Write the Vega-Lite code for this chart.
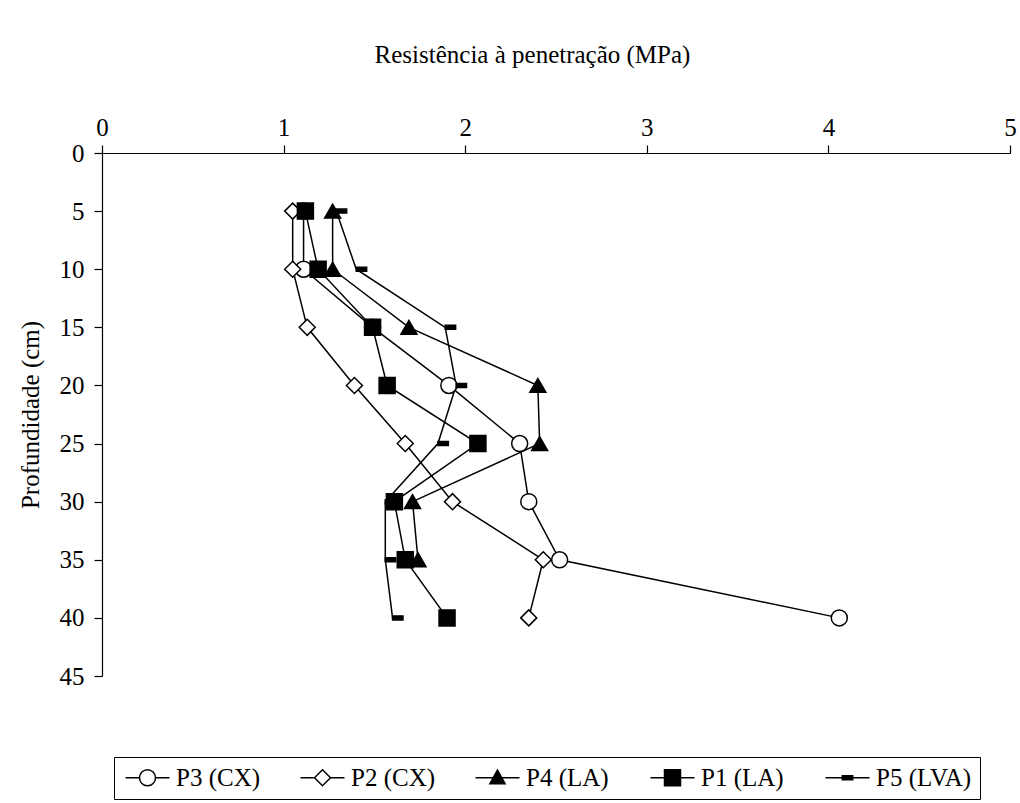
{
  "$schema": "https://vega.github.io/schema/vega-lite/v6.json",
  "width": 908,
  "height": 523,
  "autosize": {"type": "none"},
  "padding": {"left": 102, "top": 153, "right": 10, "bottom": 127},
  "background": "white",
  "config": {
    "view": {"stroke": null},
    "font": "Liberation Serif",
    "axis": {
      "grid": false,
      "domainColor": "black",
      "domainWidth": 1.2,
      "tickColor": "black",
      "tickWidth": 1.2,
      "tickSize": 8,
      "labelFont": "Liberation Serif",
      "labelFontSize": 25,
      "labelColor": "black",
      "labelFlush": false,
      "titleFont": "Liberation Serif",
      "titleFontSize": 25,
      "titleFontWeight": "normal",
      "titleColor": "black"
    },
    "legend": {
      "orient": "none",
      "legendX": 12,
      "legendY": 604,
      "direction": "horizontal",
      "columns": 5,
      "gridAlign": "all",
      "strokeColor": "black",
      "padding": 8,
      "columnPadding": 25,
      "symbolSize": 256,
      "symbolOffset": 13,
      "labelOffset": 16,
      "symbolStrokeColor": "black",
      "symbolStrokeWidth": 1.5,
      "symbolOpacity": 1,
      "labelFont": "Liberation Serif",
      "labelFontSize": 25,
      "labelColor": "black"
    }
  },
  "data": {
    "values": [
      {"s": "P3 (CX)", "d": 5, "v": 1.11},
      {"s": "P3 (CX)", "d": 10, "v": 1.11},
      {"s": "P3 (CX)", "d": 15, "v": 1.49},
      {"s": "P3 (CX)", "d": 20, "v": 1.91},
      {"s": "P3 (CX)", "d": 25, "v": 2.30},
      {"s": "P3 (CX)", "d": 30, "v": 2.35},
      {"s": "P3 (CX)", "d": 35, "v": 2.52},
      {"s": "P3 (CX)", "d": 40, "v": 4.06},
      {"s": "P2 (CX)", "d": 5, "v": 1.05},
      {"s": "P2 (CX)", "d": 10, "v": 1.05},
      {"s": "P2 (CX)", "d": 15, "v": 1.13},
      {"s": "P2 (CX)", "d": 20, "v": 1.39},
      {"s": "P2 (CX)", "d": 25, "v": 1.67},
      {"s": "P2 (CX)", "d": 30, "v": 1.93},
      {"s": "P2 (CX)", "d": 35, "v": 2.43},
      {"s": "P2 (CX)", "d": 40, "v": 2.35},
      {"s": "P4 (LA)", "d": 5, "v": 1.27},
      {"s": "P4 (LA)", "d": 10, "v": 1.27},
      {"s": "P4 (LA)", "d": 15, "v": 1.69},
      {"s": "P4 (LA)", "d": 20, "v": 2.40},
      {"s": "P4 (LA)", "d": 25, "v": 2.41},
      {"s": "P4 (LA)", "d": 30, "v": 1.71},
      {"s": "P4 (LA)", "d": 35, "v": 1.74},
      {"s": "P1 (LA)", "d": 5, "v": 1.12},
      {"s": "P1 (LA)", "d": 10, "v": 1.19},
      {"s": "P1 (LA)", "d": 15, "v": 1.49},
      {"s": "P1 (LA)", "d": 20, "v": 1.57},
      {"s": "P1 (LA)", "d": 25, "v": 2.07},
      {"s": "P1 (LA)", "d": 30, "v": 1.61},
      {"s": "P1 (LA)", "d": 35, "v": 1.67},
      {"s": "P1 (LA)", "d": 40, "v": 1.90},
      {"s": "P5 (LVA)", "d": 5, "v": 1.29},
      {"s": "P5 (LVA)", "d": 10, "v": 1.40},
      {"s": "P5 (LVA)", "d": 15, "v": 1.89},
      {"s": "P5 (LVA)", "d": 20, "v": 1.95},
      {"s": "P5 (LVA)", "d": 25, "v": 1.85},
      {"s": "P5 (LVA)", "d": 30, "v": 1.56},
      {"s": "P5 (LVA)", "d": 35, "v": 1.56},
      {"s": "P5 (LVA)", "d": 40, "v": 1.60}
    ]
  },
  "encoding": {
    "x": {
      "field": "v",
      "type": "quantitative",
      "scale": {"domain": [0, 5], "nice": false, "zero": true},
      "axis": {
        "orient": "top",
        "values": [0, 1, 2, 3, 4, 5],
        "title": "Resistência à penetração (MPa)",
        "titleX": 430,
        "titlePadding": 48,
        "labelPadding": 5
      }
    },
    "y": {
      "field": "d",
      "type": "quantitative",
      "scale": {"domain": [0, 45], "reverse": true, "nice": false},
      "axis": {
        "values": [0, 5, 10, 15, 20, 25, 30, 35, 40, 45],
        "title": "Profundidade (cm)",
        "titlePadding": 16,
        "labelPadding": 10
      }
    }
  },
  "resolve": {
    "scale": {"shape": "independent", "fill": "independent", "size": "independent"},
    "legend": {"shape": "independent", "fill": "independent", "size": "independent"}
  },
  "layer": [
    {
      "mark": {"type": "line", "color": "black", "strokeWidth": 1.5},
      "encoding": {
        "detail": {"field": "s"},
        "order": {"field": "d", "type": "quantitative"}
      }
    },
    {
      "mark": {"type": "point", "filled": true, "stroke": "black", "strokeWidth": 1.5, "opacity": 1},
      "encoding": {
        "shape": {
          "field": "s",
          "type": "nominal",
          "scale": {
            "domain": ["P3 (CX)", "P2 (CX)", "P4 (LA)", "P1 (LA)", "P5 (LVA)"],
            "range": ["circle", "diamond", "triangle-up", "square", "M0,-0.25H1.3V0.25H0Z"]
          },
          "legend": null
        },
        "fill": {
          "field": "s",
          "type": "nominal",
          "scale": {
            "domain": ["P3 (CX)", "P2 (CX)", "P4 (LA)", "P1 (LA)", "P5 (LVA)"],
            "range": ["white", "white", "black", "black", "black"]
          },
          "legend": null
        },
        "size": {
          "field": "s",
          "type": "nominal",
          "scale": {
            "domain": ["P3 (CX)", "P2 (CX)", "P4 (LA)", "P1 (LA)", "P5 (LVA)"],
            "range": [256, 256, 200, 256, 64]
          },
          "legend": null
        }
      }
    },
    {
      "transform": [{"filter": "datum.d > 1000"}],
      "mark": {"type": "point", "filled": true, "stroke": "black", "strokeWidth": 1.5, "opacity": 1, "size": 256},
      "encoding": {
        "shape": {
          "field": "s",
          "type": "nominal",
          "scale": {
            "domain": ["P3 (CX)", "P2 (CX)", "P4 (LA)", "P1 (LA)", "P5 (LVA)"],
            "range": [
              "M-2.75,0H-1A1,1 0 1,1 1,0A1,1 0 1,1 -1,0ZM1,0H2.75",
              "M-2.75,0H-1M-1,0L0,-1L1,0L0,1ZM1,0H2.75",
              "M-2.75,0H2.75M0,-0.95L0.95,0.75L-0.95,0.75Z",
              "M-2.75,0H2.75M-1,-1H1V1H-1Z",
              "M-2.75,0H2.75M-0.65,-0.25H0.65V0.25H-0.65Z"
            ]
          },
          "legend": {
            "title": null,
            "encode": {
              "symbols": {
                "update": {
                  "stroke": {"value": "black"},
                  "strokeWidth": {"value": 1.5},
                  "opacity": {"value": 1}
                }
              }
            }
          }
        },
        "fill": {
          "field": "s",
          "type": "nominal",
          "scale": {
            "domain": ["P3 (CX)", "P2 (CX)", "P4 (LA)", "P1 (LA)", "P5 (LVA)"],
            "range": ["white", "white", "black", "black", "black"]
          },
          "legend": {
            "title": null,
            "encode": {
              "symbols": {
                "update": {
                  "stroke": {"value": "black"},
                  "strokeWidth": {"value": 1.5},
                  "opacity": {"value": 1}
                }
              }
            }
          }
        }
      }
    }
  ]
}
